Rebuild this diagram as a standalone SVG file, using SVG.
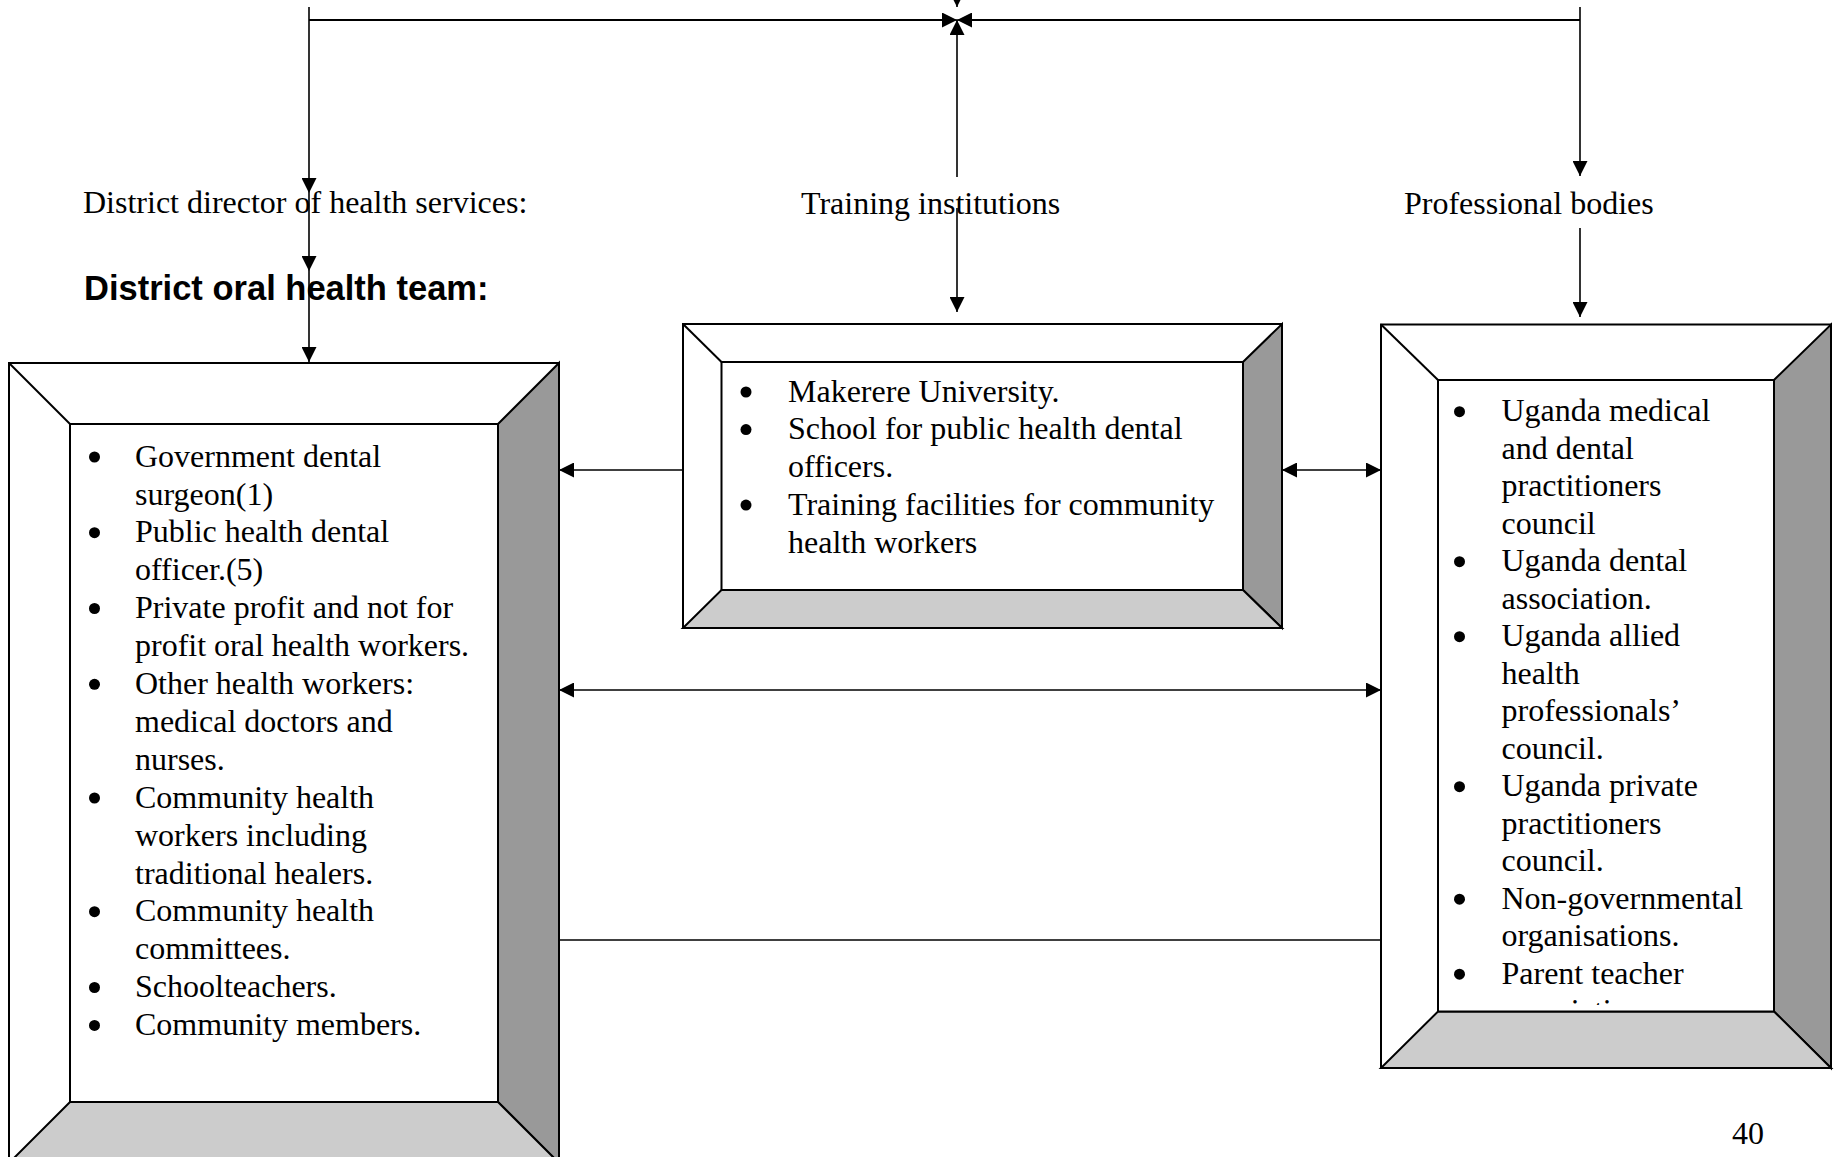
<svg xmlns="http://www.w3.org/2000/svg" width="1835" height="1157" viewBox="0 0 1835 1157">
<style>
  .t { font-family: "Liberation Serif", "Times New Roman", serif; font-size: 32px; fill: #000; }
  .h { font-family: "Liberation Sans", Arial, sans-serif; font-size: 34.5px; font-weight: bold; fill: #000; }
  .dot { fill: #000; }
  .edge { fill: none; stroke: #000; stroke-width: 1.6; }
  .arr { marker-end: url(#ah); }
  .both { marker-start: url(#ah); marker-end: url(#ah); }
  .outer { fill: #fff; stroke: #000; stroke-width: 2; }
  .dark { fill: #999999; stroke: #000; stroke-width: 2; stroke-linejoin: miter; }
  .light { fill: #cccccc; stroke: #000; stroke-width: 2; }
  .inner { fill: #fff; stroke: #000; stroke-width: 2; }
  .diag { stroke: #000; stroke-width: 2; }
</style>
<defs>
  <marker id="ah" markerUnits="userSpaceOnUse" markerWidth="15" markerHeight="15" viewBox="0 0 15 15" refX="15" refY="7.5" orient="auto-start-reverse">
    <path d="M0,0 L15,7.5 L0,15 Z" fill="#000"/>
  </marker>
  <clipPath id="rclip"><rect x="1438" y="380" width="336" height="625"/></clipPath>
</defs>
<rect width="1835" height="1157" fill="#fff"/>

<g id="connectors">
  <path class="edge arr" d="M957,-30 V7"/>
  <path class="edge" style="stroke-width:2" d="M309,20 H950"/>
  <path class="edge" style="stroke-width:2" d="M1580,20 H964"/>
  <path class="edge arr" d="M309,20 H957"/>
  <path class="edge arr" d="M1580,20 H957"/>
  <path class="edge arr" d="M309,7 V193"/>
  <path class="edge arr" d="M1580,7 V176"/>
  <path class="edge arr" d="M957,177 V20"/>
  <path class="edge arr" d="M309,193 V271"/>
  <path class="edge arr" d="M309,271 V362"/>
  <path class="edge arr" d="M957,208 V312"/>
  <path class="edge arr" d="M1580,228 V317"/>
  <path class="edge arr" d="M683,470 H559"/>
  <path class="edge both" d="M1282,470 H1381"/>
  <path class="edge both" d="M559,690 H1381"/>
  <path class="edge" d="M559,940 H1381"/>
</g>

<g id="label-director">
  <text class="t" x="83" y="213">District director of health services:</text>
</g>
<g id="label-training">
  <text class="t" x="801" y="214">Training institutions</text>
</g>
<g id="label-professional">
  <text class="t" x="1404" y="214">Professional bodies</text>
</g>
<g id="label-team">
  <text class="h" x="84" y="300">District oral health team:</text>
</g>

<g id="node-district-team">
  <rect class="outer" x="9" y="363" width="550" height="800"/>
  <line class="diag" x1="9" y1="363" x2="70" y2="424"/>
  <polygon class="dark" points="559,363 559,1163 498,1102 498,424"/>
  <polygon class="light" points="9,1163 559,1163 498,1102 70,1102"/>
  <rect class="inner" x="70" y="424" width="428" height="678"/>
  <circle class="dot" cx="94.5" cy="457" r="5.5"/>
  <circle class="dot" cx="94.5" cy="532.7" r="5.5"/>
  <circle class="dot" cx="94.5" cy="608.5" r="5.5"/>
  <circle class="dot" cx="94.5" cy="684.3" r="5.5"/>
  <circle class="dot" cx="94.5" cy="798" r="5.5"/>
  <circle class="dot" cx="94.5" cy="911.7" r="5.5"/>
  <circle class="dot" cx="94.5" cy="987.5" r="5.5"/>
  <circle class="dot" cx="94.5" cy="1025.4" r="5.5"/>
  <text class="t">
    <tspan x="135" y="466.6">Government dental</tspan>
    <tspan x="135" y="504.5">surgeon(1)</tspan>
    <tspan x="135" y="542.4">Public health dental</tspan>
    <tspan x="135" y="580.3">officer.(5)</tspan>
    <tspan x="135" y="618.2">Private profit and not for</tspan>
    <tspan x="135" y="656.1">profit oral health workers.</tspan>
    <tspan x="135" y="694">Other health workers:</tspan>
    <tspan x="135" y="731.9">medical doctors and</tspan>
    <tspan x="135" y="769.8">nurses.</tspan>
    <tspan x="135" y="807.7">Community health</tspan>
    <tspan x="135" y="845.6">workers including</tspan>
    <tspan x="135" y="883.5">traditional healers.</tspan>
    <tspan x="135" y="921.4">Community health</tspan>
    <tspan x="135" y="959.3">committees.</tspan>
    <tspan x="135" y="997.2">Schoolteachers.</tspan>
    <tspan x="135" y="1035.1">Community members.</tspan>
  </text>
</g>

<g id="node-training">
  <rect class="outer" x="683" y="324" width="599" height="304"/>
  <line class="diag" x1="683" y1="324" x2="721.5" y2="362"/>
  <polygon class="dark" points="1282,324 1282,628 1243,590 1243,362"/>
  <polygon class="light" points="683,628 1282,628 1243,590 721.5,590"/>
  <rect class="inner" x="721.5" y="362" width="521.5" height="228"/>
  <circle class="dot" cx="746" cy="392" r="5.5"/>
  <circle class="dot" cx="746" cy="429.6" r="5.5"/>
  <circle class="dot" cx="746" cy="505.1" r="5.5"/>
  <text class="t">
    <tspan x="788" y="401.5">Makerere University.</tspan>
    <tspan x="788" y="439.3">School for public health dental</tspan>
    <tspan x="788" y="477">officers.</tspan>
    <tspan x="788" y="514.8">Training facilities for community</tspan>
    <tspan x="788" y="552.5">health workers</tspan>
  </text>
</g>

<g id="node-professional">
  <rect class="outer" x="1381" y="324.5" width="450" height="743.5"/>
  <line class="diag" x1="1381" y1="324.5" x2="1438" y2="380"/>
  <polygon class="dark" points="1831,324.5 1831,1068 1774,1011.5 1774,380"/>
  <polygon class="light" points="1381,1068 1831,1068 1774,1011.5 1438,1011.5"/>
  <rect class="inner" x="1438" y="380" width="336" height="631.5"/>
  <circle class="dot" cx="1459.5" cy="411.7" r="5.5"/>
  <circle class="dot" cx="1459.5" cy="561.7" r="5.5"/>
  <circle class="dot" cx="1459.5" cy="636.7" r="5.5"/>
  <circle class="dot" cx="1459.5" cy="786.7" r="5.5"/>
  <circle class="dot" cx="1459.5" cy="899.2" r="5.5"/>
  <circle class="dot" cx="1459.5" cy="974.2" r="5.5"/>
  <text class="t" clip-path="url(#rclip)">
    <tspan x="1501.5" y="421.4">Uganda medical</tspan>
    <tspan x="1501.5" y="458.9">and dental</tspan>
    <tspan x="1501.5" y="496.4">practitioners</tspan>
    <tspan x="1501.5" y="533.9">council</tspan>
    <tspan x="1501.5" y="571.4">Uganda dental</tspan>
    <tspan x="1501.5" y="608.9">association.</tspan>
    <tspan x="1501.5" y="646.4">Uganda allied</tspan>
    <tspan x="1501.5" y="683.9">health</tspan>
    <tspan x="1501.5" y="721.4">professionals’</tspan>
    <tspan x="1501.5" y="758.9">council.</tspan>
    <tspan x="1501.5" y="796.4">Uganda private</tspan>
    <tspan x="1501.5" y="833.9">practitioners</tspan>
    <tspan x="1501.5" y="871.4">council.</tspan>
    <tspan x="1501.5" y="908.9">Non-governmental</tspan>
    <tspan x="1501.5" y="946.4">organisations.</tspan>
    <tspan x="1501.5" y="983.9">Parent teacher</tspan>
    <tspan x="1501.5" y="1021.4">associations.</tspan>
  </text>
</g>

<g id="page-number">
  <text class="t" x="1732" y="1144">40</text>
</g>
</svg>
